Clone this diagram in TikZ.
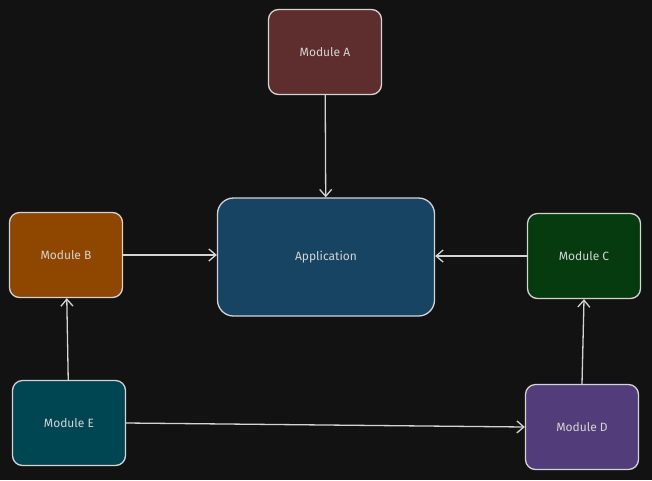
\documentclass[tikz,border=0pt]{standalone}
\usepackage{fontspec}
\setmainfont{Fira Sans}
\usetikzlibrary{arrows.meta}
\definecolor{bg}{HTML}{121212}
\definecolor{ln}{HTML}{D4D4D4}
\definecolor{ca}{HTML}{5E2E2E}
\definecolor{capp}{HTML}{174462}
\definecolor{cb}{HTML}{8F4700}
\definecolor{cc}{HTML}{053B0E}
\definecolor{ce}{HTML}{004652}
\definecolor{cd}{HTML}{523C7A}
\begin{document}
\begin{tikzpicture}[x=1pt,y=-1pt,
  box/.style={draw=ln,line width=1.3pt,rounded corners=10pt,text=ln,font=\fontsize{12}{14}\selectfont,minimum width=113pt,minimum height=85pt,inner sep=0pt},
  conn/.style={draw=ln,line width=1.3pt,-{Straight Barb[length=7pt,width=12pt]}}]
\fill[bg] (0,0) rectangle (652,480);
\useasboundingbox (0,0) rectangle (652,480);
\node[box,fill=ca] (A) at (325,52) {Module A};
\node[box,fill=capp,minimum width=217pt,minimum height=118pt,rounded corners=16pt] (P) at (326,257) {Application};
\node[box,fill=cb] (B) at (66,255) {Module B};
\node[box,fill=cc] (C) at (584,256) {Module C};
\node[box,fill=ce] (E) at (69,423) {Module E};
\node[box,fill=cd] (D) at (582,427) {Module D};
\draw[conn] (A) -- (P);
\draw[conn] (B) -- (P.west |- B);
\draw[conn] (C) -- (P.east |- C);
\draw[conn] (E) -- (B);
\draw[conn] (D.north) -- (C.south);
\draw[conn] (E.east) -- (D.west);
\end{tikzpicture}
\end{document}
